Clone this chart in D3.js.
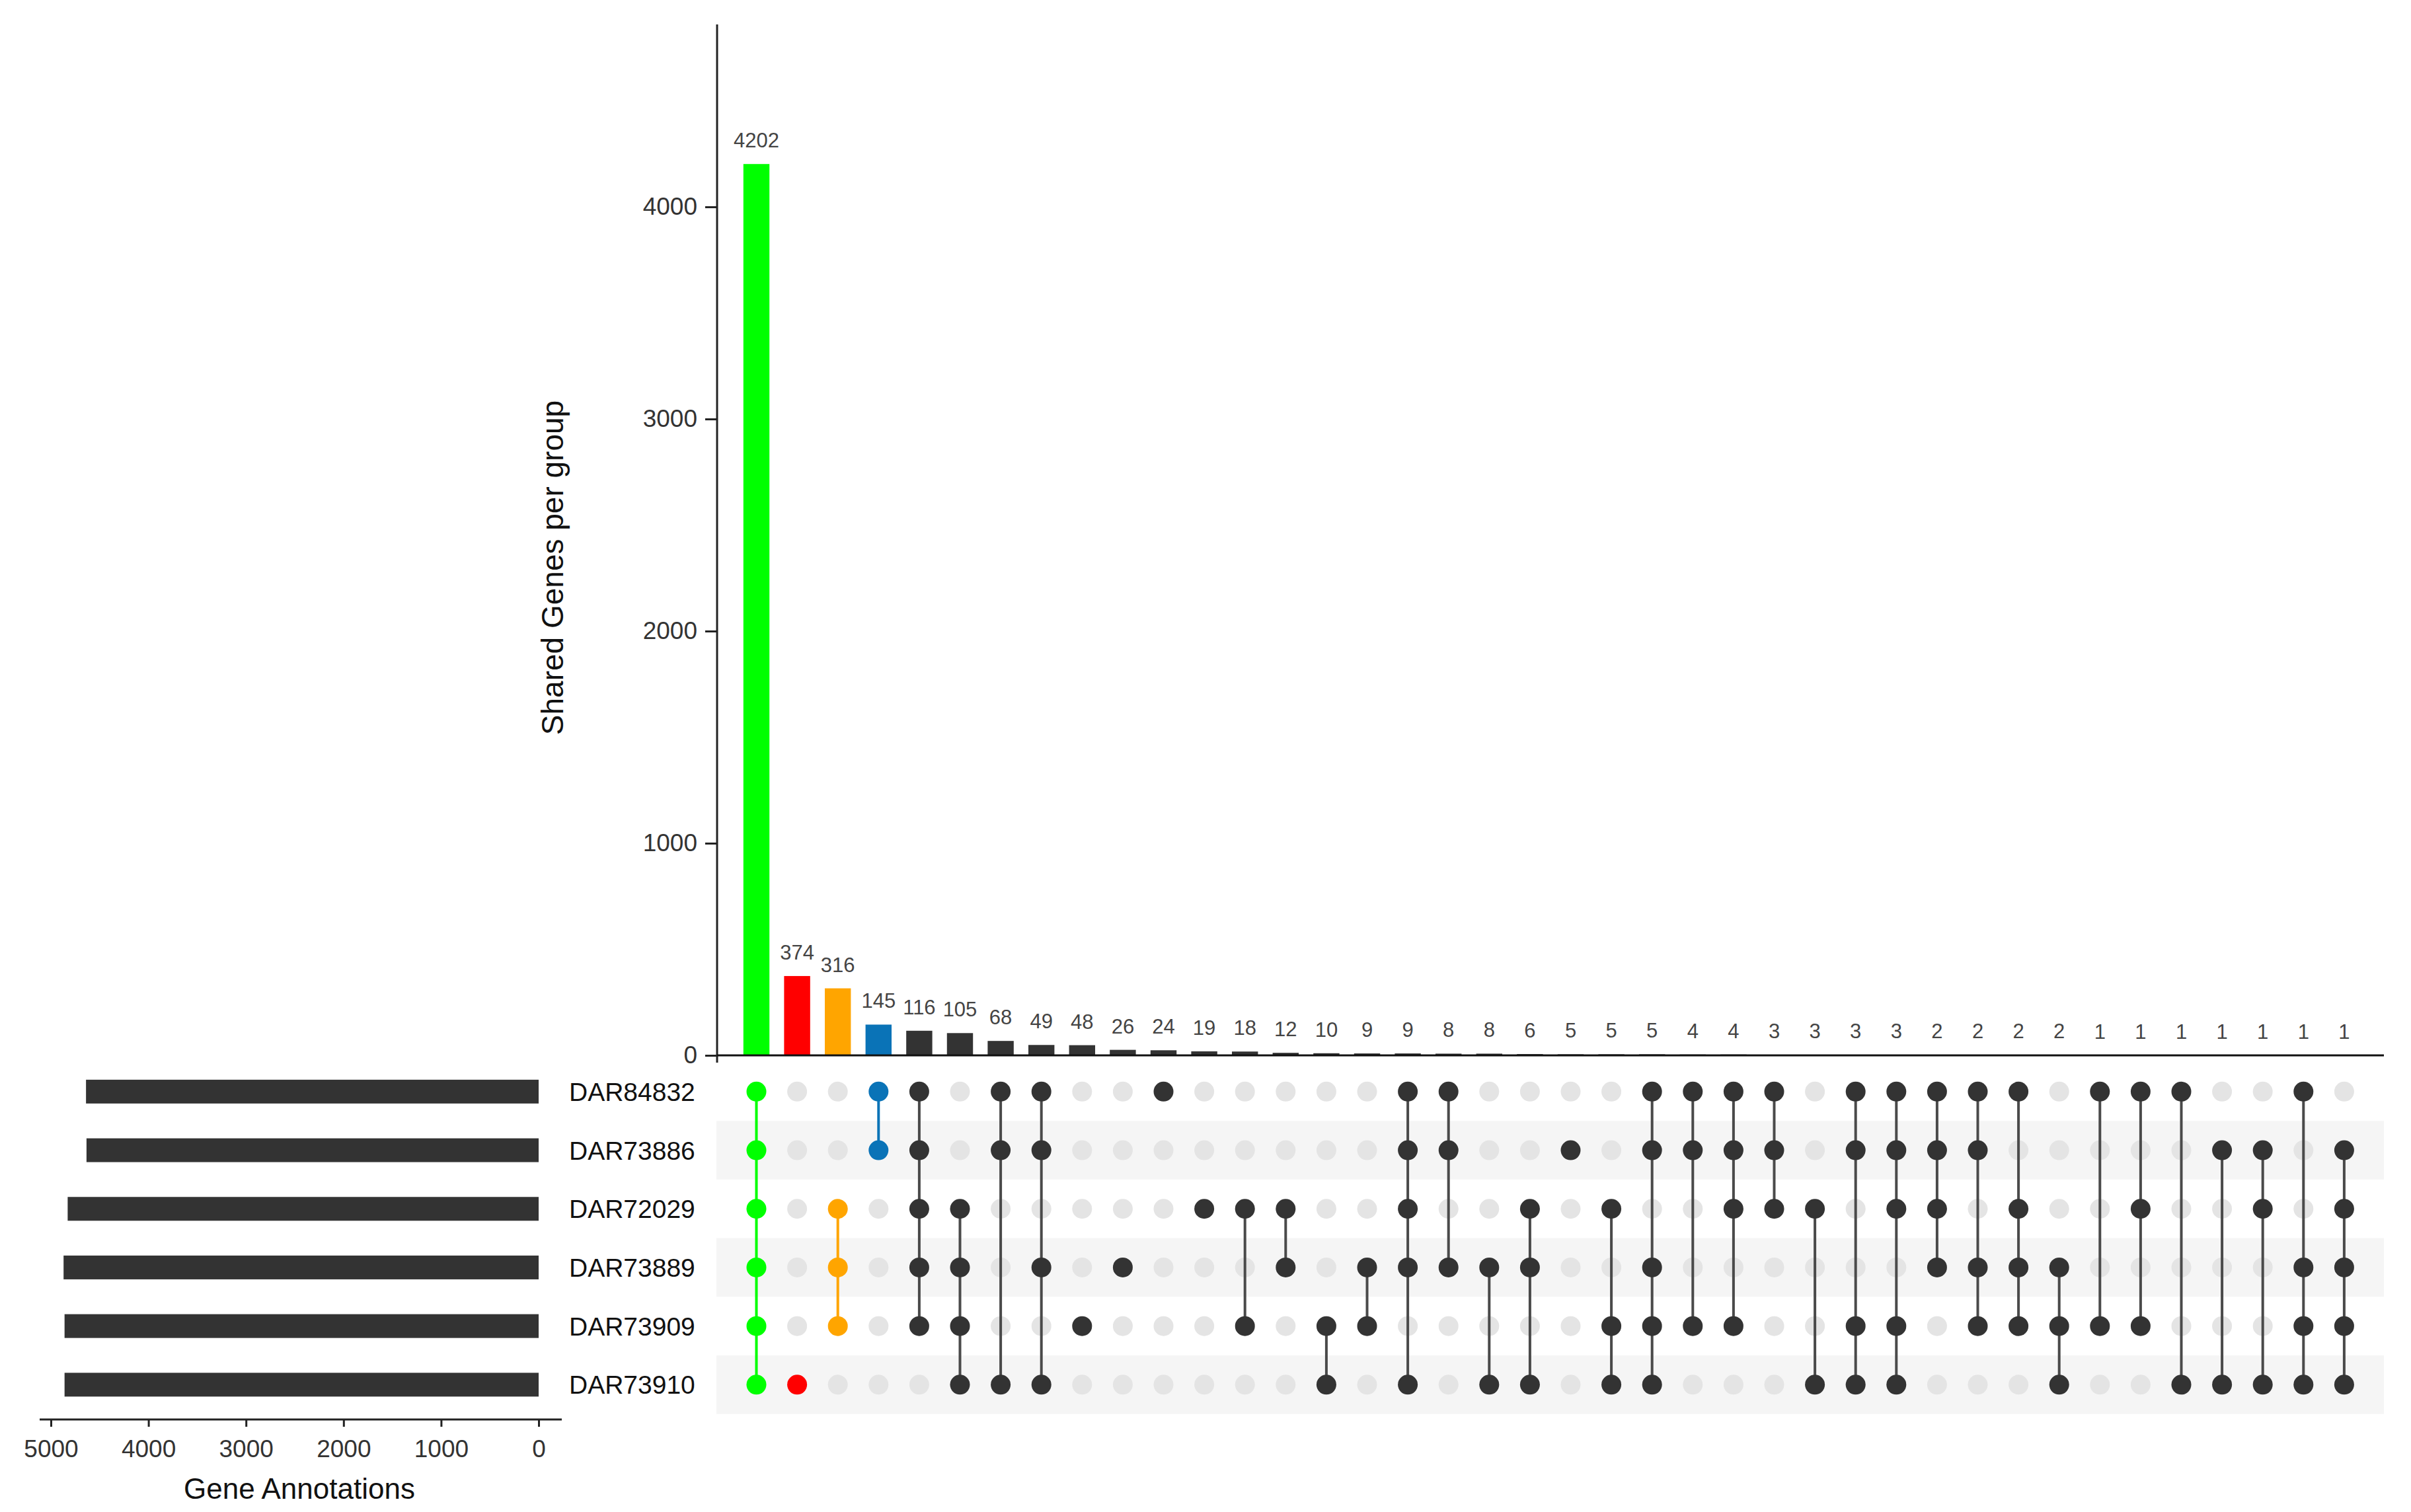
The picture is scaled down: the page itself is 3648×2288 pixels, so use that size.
<!DOCTYPE html>
<html><head><meta charset="utf-8">
<script src="https://cdn.jsdelivr.net/npm/d3@7"></script>
<style>
html,body{margin:0;padding:0;background:#fff;}
svg{display:block;}
text{font-family:"Liberation Sans",Arial,Helvetica,sans-serif;}
</style>
</head><body>
<svg id="chart" width="3648" height="2288"></svg>
<script>
// ---------------- data ----------------
const setNames = ["DAR84832","DAR73886","DAR72029","DAR73889","DAR73909","DAR73910"];
const setSizes = [4640, 4635, 4828, 4870, 4860, 4860];
const intersectionCounts = [4202,374,316,145,116,105,68,49,48,26,24,19,18,12,10,9,9,8,8,6,5,5,5,4,4,3,3,3,3,2,2,2,2,1,1,1,1,1,1,1];
const intersectionMembers = [
  [0,1,2,3,4,5],[5],[2,3,4],[0,1],[0,1,2,3,4],[2,3,4,5],[0,1,5],[0,1,3,5],[4],[3],
  [0],[2],[2,4],[2,3],[4,5],[3,4],[0,1,2,3,5],[0,1,3],[3,5],[2,3,5],
  [1],[2,4,5],[0,1,3,4,5],[0,1,4],[0,1,2,4],[0,1,2],[2,5],[0,1,4,5],[0,1,2,4,5],[0,1,2,3],
  [0,1,3,4],[0,2,3,4],[3,4,5],[0,4],[0,2,4],[0,5],[1,5],[1,2,5],[0,3,4,5],[1,2,3,4,5]
];
const highlightColors = ["#00ff00","#ff0000","#ffa500","#0a73b7"];
const yTicks = [0,1000,2000,3000,4000];
const setTicks = [0,1000,2000,3000,4000,5000];
const yMax = 4860;
const setMax = 5000;

// ---------------- layout ----------------
const svg = d3.select("#chart");
const DARK = "#333333", LINE = "#4a4a4a", GRAY = "#e4e4e4", STRIPE = "#f5f5f5";

const cols = d3.range(intersectionCounts.length);
const x = d3.scaleBand().domain(cols).range([1113.7, 1113.7 + 61.6 * cols.length])
  .paddingInner(0.36).paddingOuter(0.18);
const cx = i => x(i) + x.bandwidth() / 2;
const y = d3.scaleLinear().domain([0, yMax]).range([1597, 37]);
const rows = d3.scaleBand().domain(d3.range(setNames.length)).range([1607.5, 1607.5 + 88.7 * setNames.length]);
const ry = i => rows(i) + rows.bandwidth() / 2;
const xs = d3.scaleLinear().domain([0, setMax]).range([815, 77]);

const colorOf = i => i < highlightColors.length ? highlightColors[i] : DARK;
const lineColorOf = i => i < highlightColors.length ? highlightColors[i] : LINE;
const fmt = d3.format("d");

// stripes
svg.append("g").selectAll("rect").data(d3.range(setNames.length).filter(i => i % 2 === 1)).join("rect")
  .attr("x", 1084).attr("width", 3607 - 1084)
  .attr("y", i => rows(i)).attr("height", rows.bandwidth())
  .attr("fill", STRIPE);

// intersection bars
svg.append("g").selectAll("rect").data(intersectionCounts).join("rect")
  .attr("x", (d, i) => x(i)).attr("width", x.bandwidth())
  .attr("y", d => y(d)).attr("height", d => y(0) - y(d))
  .attr("fill", (d, i) => colorOf(i));

svg.append("g").selectAll("text").data(intersectionCounts).join("text")
  .attr("x", (d, i) => cx(i)).attr("y", d => y(d) - 25)
  .attr("text-anchor", "middle").attr("font-size", 31).attr("fill", "#444")
  .text(d => d);

// y axis
const yAxis = svg.append("g").attr("transform", "translate(1085,0)")
  .call(d3.axisLeft(y).tickValues(yTicks).tickFormat(fmt).tickSize(18).tickPadding(12).tickSizeOuter(0));
yAxis.select(".domain").remove();
yAxis.selectAll(".tick line").attr("stroke", "#222").attr("stroke-width", 3);
yAxis.selectAll(".tick text").attr("font-size", 37).attr("fill", "#333")
  .attr("font-family", "'Liberation Sans',Arial,sans-serif");
svg.append("line").attr("x1", 1085).attr("x2", 1085).attr("y1", y(yMax)).attr("y2", y(0) + 11)
  .attr("stroke", "#222").attr("stroke-width", 3);
svg.append("line").attr("x1", 1085).attr("x2", 3607).attr("y1", y(0)).attr("y2", y(0))
  .attr("stroke", "#111").attr("stroke-width", 3);

svg.append("text").attr("transform", "translate(852,859) rotate(-90)")
  .attr("text-anchor", "middle").attr("font-size", 46).attr("fill", "#111")
  .text("Shared Genes per group");

// matrix
const cells = [];
cols.forEach(c => setNames.forEach((s, r) => cells.push({c, r, on: intersectionMembers[c].includes(r)})));
svg.append("g").selectAll("circle").data(cells.filter(d => !d.on)).join("circle")
  .attr("cx", d => cx(d.c)).attr("cy", d => ry(d.r)).attr("r", 15).attr("fill", GRAY);

svg.append("g").selectAll("line").data(cols.filter(c => intersectionMembers[c].length > 1)).join("line")
  .attr("x1", c => cx(c)).attr("x2", c => cx(c))
  .attr("y1", c => ry(d3.min(intersectionMembers[c]))).attr("y2", c => ry(d3.max(intersectionMembers[c])))
  .attr("stroke", c => lineColorOf(c)).attr("stroke-width", 4);

svg.append("g").selectAll("circle").data(cells.filter(d => d.on)).join("circle")
  .attr("cx", d => cx(d.c)).attr("cy", d => ry(d.r)).attr("r", 15).attr("fill", d => colorOf(d.c));

// set labels
svg.append("g").selectAll("text").data(setNames).join("text")
  .attr("x", 861).attr("y", (d, i) => ry(i)).attr("dy", "0.36em")
  .attr("font-size", 39).attr("fill", "#111").text(d => d);

// set size bars
svg.append("g").selectAll("rect").data(setSizes).join("rect")
  .attr("x", d => xs(d)).attr("width", d => xs(0) - xs(d))
  .attr("y", (d, i) => ry(i) - 18).attr("height", 36)
  .attr("fill", DARK);

const sAxis = svg.append("g").attr("transform", "translate(0,2148)")
  .call(d3.axisBottom(xs).tickValues(setTicks).tickFormat(fmt).tickSize(11).tickPadding(20).tickSizeOuter(0));
sAxis.select(".domain").remove();
sAxis.selectAll(".tick line").attr("stroke", "#222").attr("stroke-width", 3);
sAxis.selectAll(".tick text").attr("font-size", 37).attr("fill", "#333")
  .attr("font-family", "'Liberation Sans',Arial,sans-serif");
svg.append("line").attr("x1", 60).attr("x2", 850).attr("y1", 2148).attr("y2", 2148)
  .attr("stroke", "#222").attr("stroke-width", 3);

svg.append("text").attr("x", 453).attr("y", 2268).attr("text-anchor", "middle")
  .attr("font-size", 44).attr("fill", "#111").text("Gene Annotations");
</script>
</body></html>
